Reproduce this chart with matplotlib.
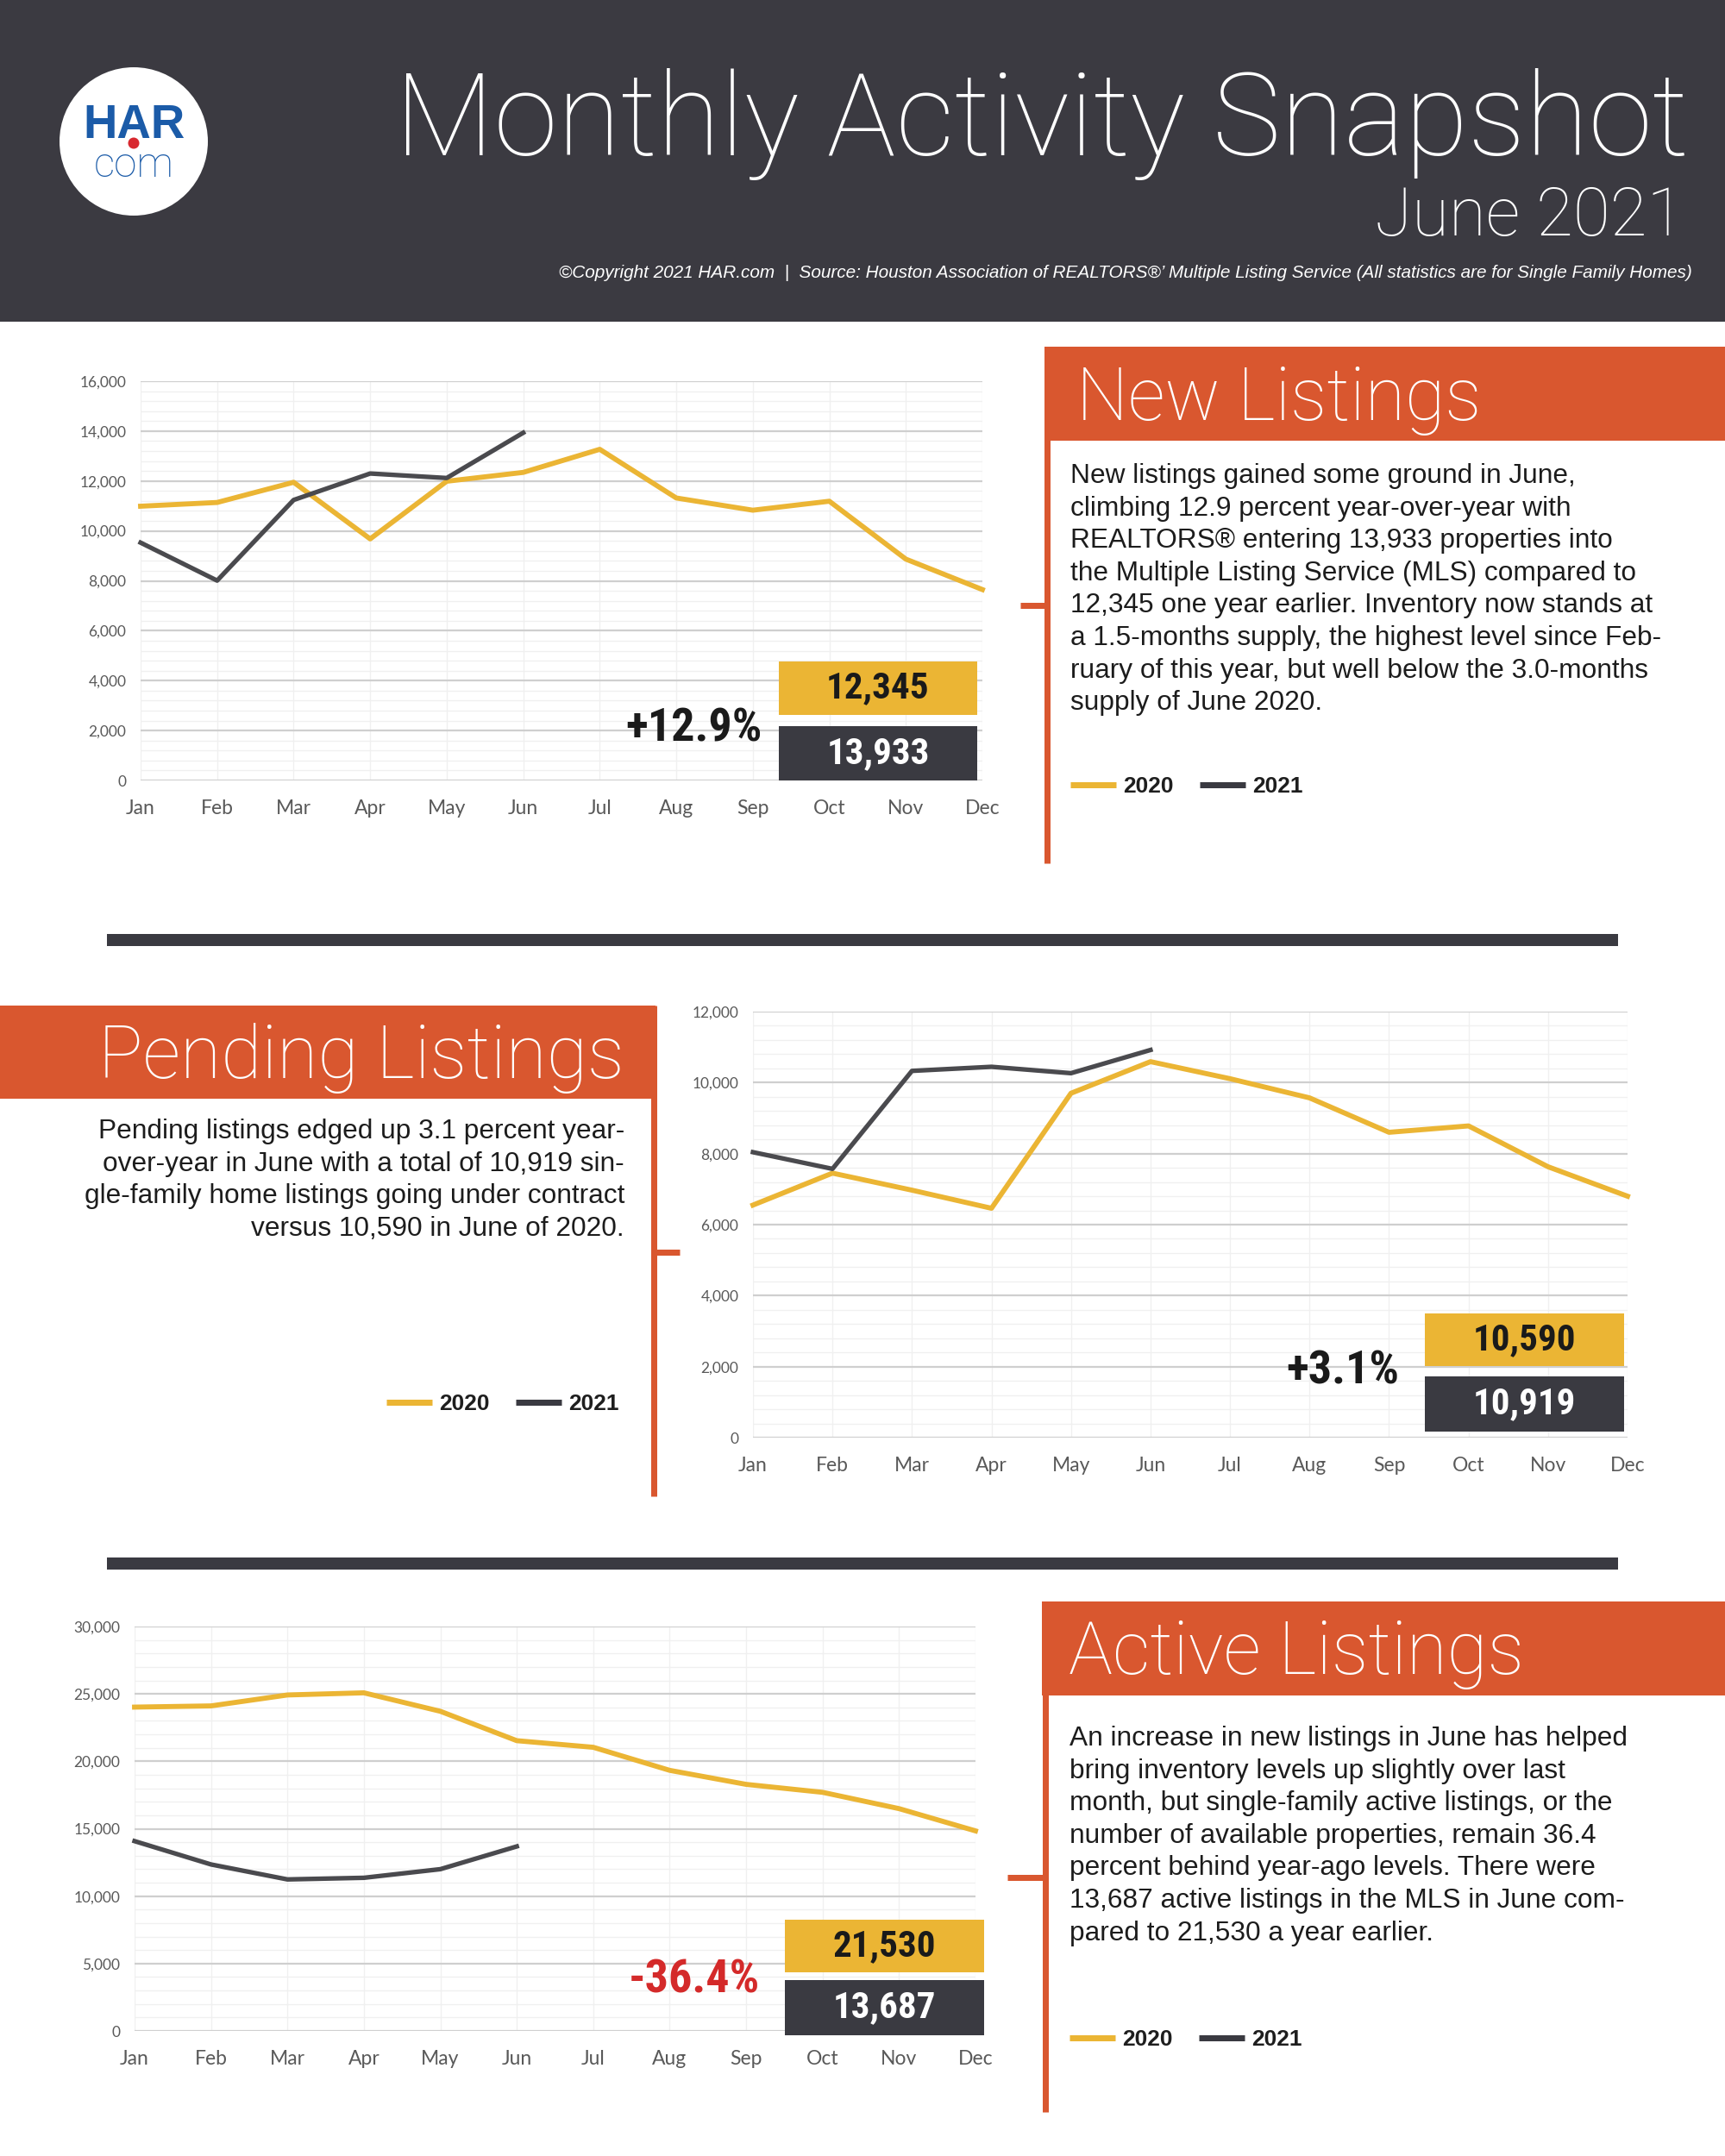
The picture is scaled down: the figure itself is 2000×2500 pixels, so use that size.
import matplotlib
matplotlib.use('Agg')
import matplotlib.pyplot as plt
from matplotlib import font_manager
from matplotlib.patches import Rectangle, Circle
from matplotlib.ticker import MultipleLocator, FuncFormatter

months = ['Jan', 'Feb', 'Mar', 'Apr', 'May', 'Jun', 'Jul', 'Aug', 'Sep', 'Oct', 'Nov', 'Dec']
years = ['2020', '2021']

new_2020 = [10990, 11140, 11950, 9680, 11990, 12345, 13270, 11320, 10830, 11190, 8870, 7650]
new_2021 = [9530, 8010, 11240, 12300, 12120, 13933]

pending_2020 = [6550, 7450, 6970, 6460, 9700, 10590, 10110, 9570, 8600, 8780, 7630, 6800]
pending_2021 = [8040, 7570, 10330, 10445, 10265, 10919]

active_2020 = [24020, 24110, 24920, 25080, 23710, 21530, 21040, 19330, 18290, 17700, 16490, 14840]
active_2021 = [14080, 12350, 11240, 11360, 12000, 13687]

section_titles = ['New Listings', 'Pending Listings', 'Active Listings']

new_text = [
    "New listings gained some ground in June,",
    "climbing 12.9 percent year-over-year with",
    "REALTORS\u00ae entering 13,933 properties into",
    "the Multiple Listing Service (MLS) compared to",
    "12,345 one year earlier. Inventory now stands at",
    "a 1.5-months supply, the highest level since Feb-",
    "ruary of this year, but well below the 3.0-months",
    "supply of June 2020.",
]
pending_text = [
    "Pending listings edged up 3.1 percent year-",
    "over-year in June with a total of 10,919 sin-",
    "gle-family home listings going under contract",
    "versus 10,590 in June of 2020.",
]
active_text = [
    "An increase in new listings in June has helped",
    "bring inventory levels up slightly over last",
    "month, but single-family active listings, or the",
    "number of available properties, remain 36.4",
    "percent behind year-ago levels. There were",
    "13,687 active listings in the MLS in June com-",
    "pared to 21,530 a year earlier.",
]

# ---- colours ----
HEADER = '#3b3a41'
ORANGE = '#d9572f'
YELLOW = '#ebb534'
DARK = '#3a3a41'
LINE_DARK = '#4a4a4e'
RED = '#d42a2a'
TICK = '#595959'

# ---- fonts ----
names = {f.name for f in font_manager.fontManager.ttflist}


def pick(cands):
    for c in cands:
        if c in names:
            return c
    return 'DejaVu Sans'


BODY = pick(['Liberation Sans', 'Arial', 'DejaVu Sans'])
LIGHT = pick(['Roboto', 'Lato', 'Open Sans', 'DejaVu Sans'])
TICKF = pick(['Lato', 'Open Sans', 'DejaVu Sans'])


def weight_of(f):
    if isinstance(f.weight, int):
        return f.weight
    return 700 if 'bold' in str(f.weight) else 400


# narrowest heavy face we can find for the big numbers
cond_bold = None
for want in ['Liberation Sans Narrow', 'Roboto Condensed', 'Open Sans Condensed', None]:
    for f in font_manager.fontManager.ttflist:
        ok = (f.name == want) if want else ('condensed' in str(f.stretch) or 'Condensed' in f.name)
        if ok and weight_of(f) >= 600 and f.style == 'normal':
            cond_bold = f.fname
            break
    if cond_bold:
        break
if cond_bold:
    NUMFONT = dict(fontproperties=font_manager.FontProperties(fname=cond_bold))
else:
    NUMFONT = dict(family=pick(['Roboto', 'Liberation Sans']), weight='bold')

W, H = 2000, 2500
fig = plt.figure(figsize=(20, 25), dpi=100)
fig.patch.set_facecolor('white')
renderer = fig.canvas.get_renderer()

bg = fig.add_axes([0, 0, 1, 1], zorder=0)
bg.set_xlim(0, W)
bg.set_ylim(H, 0)
bg.axis('off')


def fit_width(t, target, max_only=False):
    w = t.get_window_extent(renderer).width
    if max_only and w <= target:
        return t
    t.set_fontsize(t.get_fontsize() * target / w)
    return t


def px_axes(x0, y0, x1, y1):
    return fig.add_axes([x0 / W, 1 - y1 / H, (x1 - x0) / W, (y1 - y0) / H], zorder=2)


# ---- header ----
bg.add_patch(Rectangle((0, 0), W, 373, color=HEADER, lw=0))
bg.add_patch(Circle((155, 164), 86, color='white', lw=0))
fit_width(bg.text(155, 160, 'HAR', color='#1b5ba8', family=BODY, weight='bold',
                  fontsize=30, ha='center', va='baseline'), 118)
bg.add_patch(Circle((155, 166), 6.5, color='#d8282f', lw=0))
fit_width(bg.text(155, 205, 'com', color='#1b5ba8', family=LIGHT, weight='light',
                  fontsize=36, ha='center', va='baseline'), 93)

fit_width(bg.text(1958, 180, 'Monthly Activity Snapshot', color='white', family=LIGHT,
                  weight='light', fontsize=100, ha='right', va='baseline'), 1500)
fit_width(bg.text(1952, 273, 'June 2021', color='white', family=LIGHT, weight='light',
                  fontsize=60, ha='right', va='baseline'), 358)
fit_width(bg.text(1962, 322, '\u00a9Copyright 2021 HAR.com  |  Source: Houston Association of '
                  'REALTORS\u00ae\u2019 Multiple Listing Service (All statistics are for '
                  'Single Family Homes)', color='white', family=BODY, style='italic',
                  fontsize=14, ha='right', va='baseline'), 1324)

# ---- separators ----
for y in [1090, 1813]:
    bg.plot([124, 1876], [y, y], color=DARK, lw=14 * 0.72, solid_capstyle='butt')


# ---- section panels ----
def panel(band, title, title_x, title_y, title_w, align, vline, tick):
    bx, by, bw, bh = band
    bg.add_patch(Rectangle((bx, by), bw, bh, color=ORANGE, lw=0))
    fit_width(bg.text(title_x, title_y, title, color='white', family=LIGHT, weight='light',
                      fontsize=60, ha=align, va='baseline'), title_w)
    vx, vy0, vy1 = vline
    bg.plot([vx, vx], [vy0, vy1], color=ORANGE, lw=7 * 0.72, solid_capstyle='butt')
    tx0, tx1, ty = tick
    bg.plot([tx0, tx1], [ty, ty], color=ORANGE, lw=7 * 0.72, solid_capstyle='butt')


panel((1211, 402, 789, 109), section_titles[0], 1248, 487, 470, 'left',
      (1213.5, 402, 1001), (1183, 1214, 702))
panel((0, 1166, 760, 108), section_titles[1], 724, 1250, 609, 'right',
      (757.5, 1166, 1735), (757, 788, 1452))
panel((1208, 1857, 792, 109), section_titles[2], 1239, 1941, 529, 'left',
      (1211.5, 1857, 2449), (1168, 1212, 2177))

# body text, one line per baseline
probe = bg.text(0, -100, new_text[5], family=BODY, fontsize=20)
fit_width(probe, 683)
body_size = probe.get_fontsize()
probe.remove()


def body(lines, x, y0, align):
    for i, line in enumerate(lines):
        bg.text(x, y0 + i * 37.6, line, family=BODY, fontsize=body_size, color='#1c1c1c',
                ha=align, va='baseline')


body(new_text, 1241, 560, 'left')
body(pending_text, 724, 1320, 'right')
body(active_text, 1240, 2024, 'left')


def legend(x0, y):
    for k, (col, yr) in enumerate(zip([YELLOW, DARK], years)):
        off = x0 + k * 150
        bg.plot([off, off + 53], [y, y], color=col, lw=7 * 0.72, solid_capstyle='butt')
        bg.text(off + 61, y + 9, yr, family=BODY, weight='bold', fontsize=19,
                color='#1e1e1e', ha='left', va='baseline')


legend(1241, 910)
legend(448, 1626)
legend(1240, 2363)


# ---- charts ----
def chart(box, s20, s21, ymax, major, minor, box_x, yel_y, dark_y, pct_xy, pct_color):
    ax = px_axes(*box)
    ax.set_facecolor('none')
    ax.plot(range(len(s20)), s20, color=YELLOW, lw=4.2, zorder=3, clip_on=False)
    ax.plot(range(len(s21)), s21, color=LINE_DARK, lw=3.8, zorder=4, clip_on=False)
    ax.set_xlim(0, 11)
    ax.set_ylim(0, ymax)
    ax.yaxis.set_major_locator(MultipleLocator(major))
    ax.yaxis.set_minor_locator(MultipleLocator(minor))
    ax.yaxis.set_major_formatter(FuncFormatter(lambda v, p: f'{int(v):,}'))
    ax.set_xticks(range(12))
    ax.set_xticklabels(months)
    ax.grid(which='major', axis='y', color='#cfcfcf', lw=1.6, zorder=0)
    ax.grid(which='minor', axis='y', color='#f0f0f0', lw=1.0, zorder=0)
    ax.grid(which='major', axis='x', color='#f0f0f0', lw=1.0, zorder=0)
    ax.set_axisbelow(True)
    for s in ax.spines.values():
        s.set_visible(False)
    ax.tick_params(axis='both', which='both', length=0)
    ax.tick_params(axis='y', pad=12, labelsize=12.5, labelcolor=TICK)
    ax.tick_params(axis='x', pad=16, labelsize=16.5, labelcolor=TICK)
    for lab in ax.get_xticklabels() + ax.get_yticklabels():
        lab.set_family(TICKF)

    # June comparison boxes
    june20, june21 = s20[5], s21[5]
    x0, x1 = box_x
    for (y0, y1), col, val, tc in [(yel_y, YELLOW, june20, '#1a1a1a'),
                                  (dark_y, DARK, june21, 'white')]:
        ax.add_patch(Rectangle((x0, y0), x1 - x0, y1 - y0, transform=ax.transAxes,
                               color=col, lw=0, zorder=6, clip_on=False))
        t = ax.text((x0 + x1) / 2, (y0 + y1) / 2, f'{val:,}', transform=ax.transAxes,
                    color=tc, ha='center', va='center', zorder=7, fontsize=31, **NUMFONT)
        fit_width(t, 140, max_only=True)
    pct = (june21 / june20 - 1) * 100
    t = ax.text(pct_xy[0], pct_xy[1], f'{pct:+.1f}%', transform=ax.transAxes,
                color=pct_color, ha='right', va='center', zorder=7, fontsize=39, **NUMFONT)
    fit_width(t, 160 if abs(pct) >= 10 else 135, max_only=True)
    return ax


chart((163, 442, 1139, 905), new_2020, new_2021, 16000, 2000, 400,
      (0.758, 0.994), (0.165, 0.297), (0.0, 0.136), (0.738, 0.13), '#1a1a1a')
chart((873, 1173, 1887, 1667), pending_2020, pending_2021, 12000, 2000, 400,
      (0.768, 0.996), (0.168, 0.292), (0.014, 0.144), (0.739, 0.156), '#1a1a1a')
chart((156, 1886, 1131, 2355), active_2020, active_2021, 30000, 5000, 1000,
      (0.773, 1.010), (0.145, 0.276), (-0.01, 0.126), (0.744, 0.126), RED)

fig.savefig('out.png', dpi=100, facecolor='white')
